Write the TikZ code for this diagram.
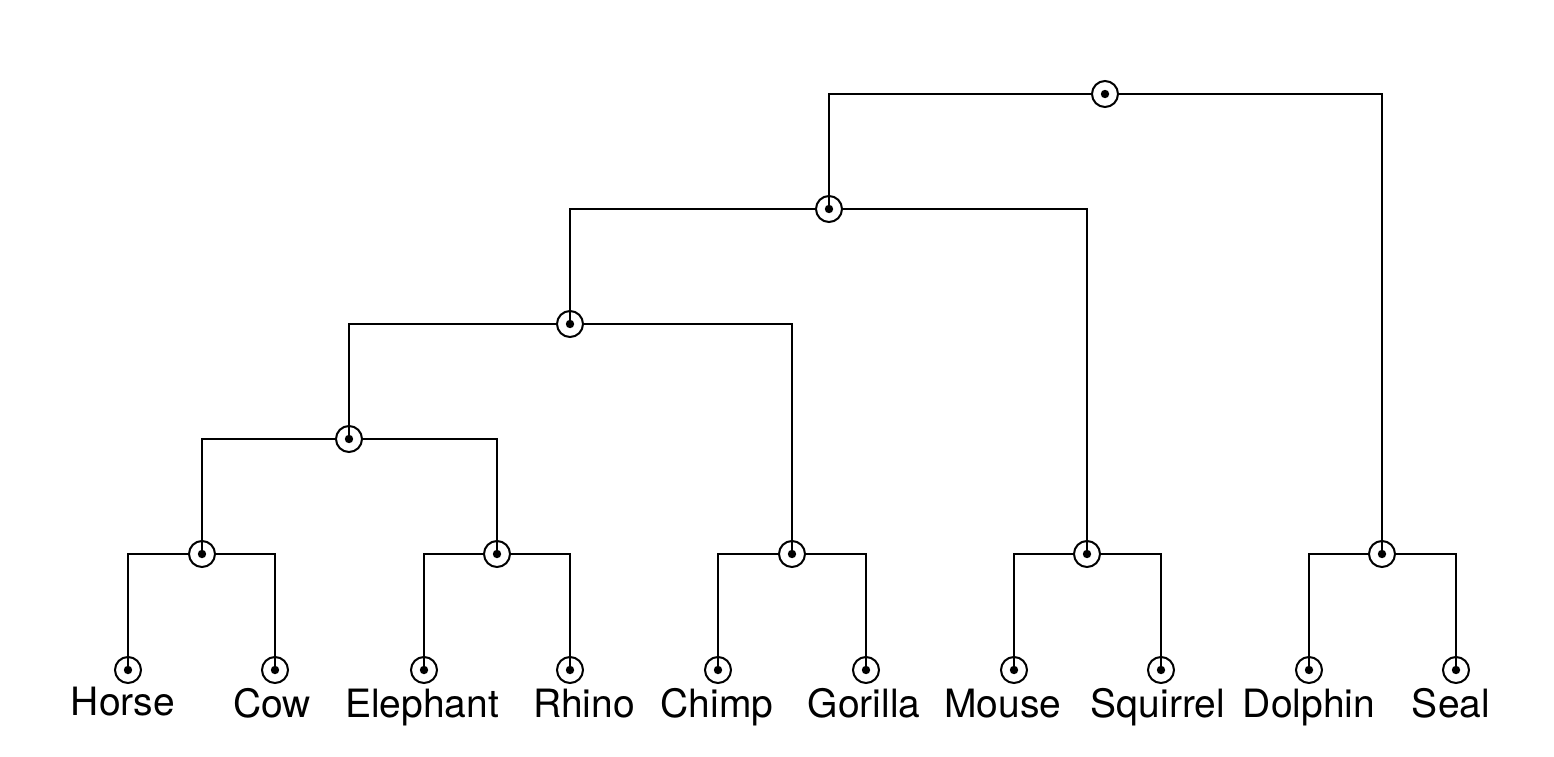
\documentclass[tikz,border=0pt]{standalone}
\usepackage{fontspec}
\setmainfont{TeX Gyre Heros}
\begin{document}
\begin{tikzpicture}[x=0.5pt,y=-0.5pt,
  tn/.style={circle,draw,line width=1pt,minimum size=13pt,inner sep=0pt,
    path picture={\fill (path picture bounding box.center) circle (2.1pt);}},
  edge/.style={line width=1pt},
  lbl/.style={anchor=base,font=\fontsize{19.5}{21}\selectfont,inner sep=0pt}]
\useasboundingbox (0,0) rectangle (1554,756);
% leaves
\node[tn] (horse) at (128,670) {};
\node[tn] (cow) at (275,670) {};
\node[tn] (eleph) at (424,670) {};
\node[tn] (rhino) at (570,670) {};
\node[tn] (chimp) at (718,670) {};
\node[tn] (gor) at (866,670) {};
\node[tn] (mouse) at (1014,670) {};
\node[tn] (squ) at (1161,670) {};
\node[tn] (dol) at (1309,670) {};
\node[tn] (seal) at (1456,670) {};
% internal
\node[tn] (a) at (202,554) {};
\node[tn] (b) at (497,554) {};
\node[tn] (c) at (792,554) {};
\node[tn] (d) at (1087,554) {};
\node[tn] (e) at (1382,554) {};
\node[tn] (f) at (349,439) {};
\node[tn] (g) at (570,324) {};
\node[tn] (h) at (829,209) {};
\node[tn] (r) at (1105,94) {};
% edges
\foreach \p/\l/\rr in {a/horse/cow, b/eleph/rhino, c/chimp/gor, d/mouse/squ, e/dol/seal,
  f/a/b, g/f/c, h/g/d, r/h/e}{
  \draw[edge] (\p.west) -| (\l.center);
  \draw[edge] (\p.east) -| (\rr.center);
}
% labels
\node[lbl] (t1) at (123,715) {Horse};
\node[lbl] (t2) at (272,717) {Cow};
\node[lbl] (t3) at (422,717) {Elephant};
\node[lbl] (t4) at (584,717) {Rhino};
\node[lbl] (t5) at (717,717) {Chimp};
\node[lbl] (t6) at (864,717) {Gorilla};
\node[lbl] (t7) at (1003,717) {Mouse};
\node[lbl] (t8) at (1158,717) {Squirrel};
\node[lbl] (t9) at (1309,717) {Dolphin};
\node[lbl] (t10) at (1451,717) {Seal};
\end{tikzpicture}
\end{document}
